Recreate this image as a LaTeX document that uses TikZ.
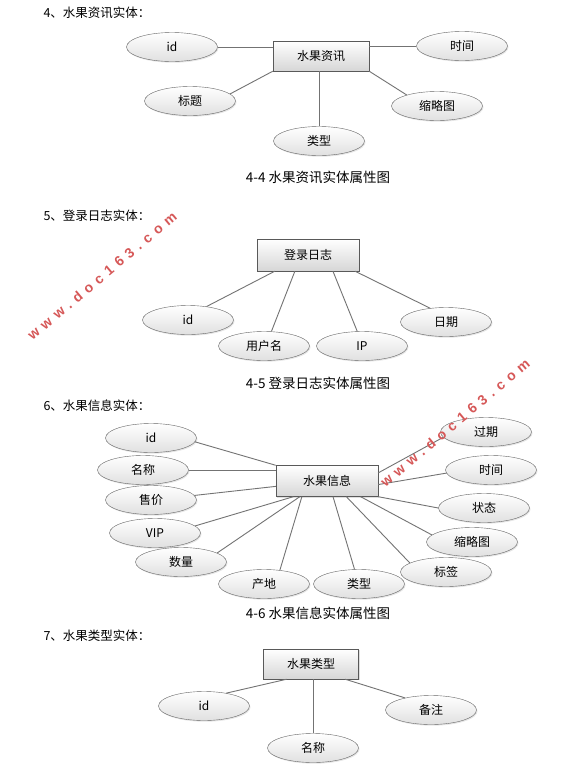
\documentclass[tikz,border=0pt]{standalone}
\usepackage{fontspec}
\setmainfont{Noto Sans CJK SC}
\newfontfamily\wmfont[LetterSpace=40]{Liberation Sans}
\usetikzlibrary{shapes.geometric,shadows}
\definecolor{wmred}{RGB}{214,88,88}

\begin{document}
\begin{tikzpicture}[x=1pt,y=-1pt,
  ent/.style={draw=black!65, top color=white, bottom color=black!16, inner sep=0pt,
    font=\fontsize{12}{14}\selectfont, drop shadow={shadow xshift=1pt, shadow yshift=-1.2pt, opacity=0.25}},
  attr/.style={ellipse, draw=black!60, top color=white, bottom color=black!12, inner sep=0pt,
    minimum width=91pt, minimum height=29pt, font=\fontsize{12}{14}\selectfont,
    drop shadow={shadow xshift=1pt, shadow yshift=-1.2pt, opacity=0.2}},
  conn/.style={draw=black!55, line width=0.9pt},
  head/.style={anchor=west, font=\fontsize{12.5}{14}\selectfont},
  captxt/.style={font=\fontsize{13.5}{15}\selectfont},
  wm/.style={text=wmred, font=\wmfont\bfseries\fontsize{14}{14}\selectfont, inner sep=0pt, rotate=40}]
  \fill[white] (0,0) rectangle (580,772);
  \useasboundingbox (0,0) rectangle (580,772);

  % 4
  \node[head] (h1) at (40,13) {4、水果资讯实体：};
  \node[ent, minimum width=96pt, minimum height=30pt] (zx) at (321,56) {水果资讯};
  \node[attr] (id1) at (172,47) {id};
  \node[attr] (sj1) at (462,46) {时间};
  \node[attr] (bt1) at (190,101) {标题};
  \node[attr] (slt1) at (437,106) {缩略图};
  \node[attr] (lx1) at (319,141) {类型};
  \draw[conn] (id1.east) -- (id1.east -| zx.west);
  \draw[conn] (sj1.west) -- (sj1.west -| zx.east);
  \draw[conn] (bt1.10) -- (zx.south west);
  \draw[conn] (slt1.160) -- (zx.south east);
  \draw[conn] (lx1.north) -- (lx1.north |- zx.south);
  \node[captxt] (c1) at (318,177) {4-4 水果资讯实体属性图};

  % 5
  \node[head] (h2) at (40,216) {5、登录日志实体：};
  \node[ent, minimum width=102pt, minimum height=32pt] (rz) at (308,255) {登录日志};
  \node[attr] (id2) at (188,320) {id};
  \node[attr] (yhm2) at (264,346) {用户名};
  \node[attr] (ip2) at (362,346) {IP};
  \node[attr] (rq2) at (446,322) {日期};
  \draw[conn] (id2.36) -- (rz.206);
  \draw[conn] (yhm2.63) -- (rz.231);
  \draw[conn] (ip2.108) -- (rz.327);
  \draw[conn] (rq2.139) -- (rz.341);
  \node[captxt] (c2) at (318,383) {4-5 登录日志实体属性图};

  % 6
  \node[head] (h3) at (40,406) {6、水果信息实体：};
  \node[ent, minimum width=102pt, minimum height=31pt] (xx) at (327,481) {水果信息};
  \node[attr] (id3) at (151,438) {id};
  \node[attr] (mc3) at (143,470) {名称};
  \node[attr] (sjia3) at (151,500) {售价};
  \node[attr] (vip3) at (155,533) {VIP};
  \node[attr] (sl3) at (181,562) {数量};
  \node[attr] (cd3) at (264,584) {产地};
  \node[attr] (lx3) at (359,584) {类型};
  \node[attr] (bq3) at (446,572) {标签};
  \node[attr] (slt3) at (472,542) {缩略图};
  \node[attr] (zt3) at (484,508) {状态};
  \node[attr] (sj3) at (491,470) {时间};
  \node[attr] (gq3) at (486,432) {过期};
  \draw[conn] (id3.355) -- (xx.north west);
  \draw[conn] (mc3.east) -- (mc3.east -| xx.west);
  \draw[conn] (sjia3.6) -- (xx.186);
  \draw[conn] (vip3.10) -- (xx.205);
  \draw[conn] (sl3.14) -- (xx.210);
  \draw[conn] (cd3.41) -- (xx.212);
  \draw[conn] (lx3.107) -- (xx.291);
  \draw[conn] (bq3.166) -- (xx.321);
  \draw[conn] (slt3.170) -- (xx.335);
  \draw[conn] (zt3.west) -- (xx.south east);
  \draw[conn] (sj3.184) -- (xx.356);
  \draw[conn] (gq3.187) -- (xx.9);
  \node[captxt] (c3) at (318,613) {4-6 水果信息实体属性图};

  % 7
  \node[head] (h4) at (40,636) {7、水果类型实体：};
  \node[ent, minimum width=95pt, minimum height=30pt] (sglx) at (311,664) {水果类型};
  \node[attr] (id4) at (204,706) {id};
  \node[attr] (mc4) at (313,748) {名称};
  \node[attr] (bz4) at (431,710) {备注};
  \draw[conn] (id4.30) -- (sglx.212);
  \draw[conn] (mc4.north) -- (mc4.north |- sglx.south);
  \draw[conn] (bz4.155) -- (sglx.336);

  % watermark
  \node[wm] (wm1) at (102,276) {www.doc163.com};
  \node[wm] (wm2) at (455,423) {www.doc163.com};
\end{tikzpicture}
\end{document}
